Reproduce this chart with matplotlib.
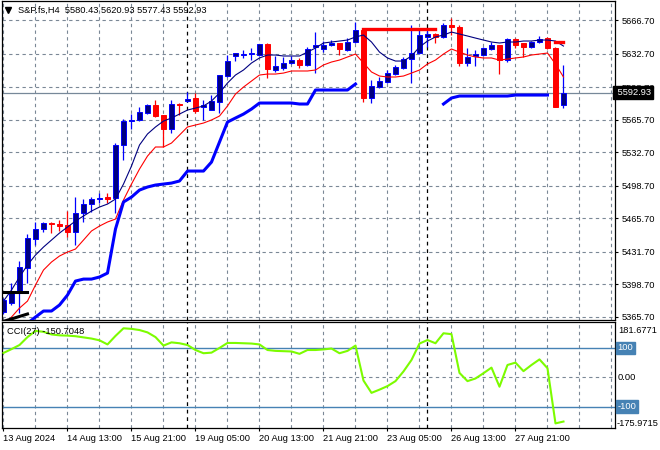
import numpy as np
import matplotlib
matplotlib.use("Agg")
import matplotlib.pyplot as plt
from matplotlib.transforms import blended_transform_factory

plt.rcParams['font.family'] = ['Liberation Sans', 'DejaVu Sans']
plt.rcParams['font.size'] = 6.7

# S&P.fs H4 candles
opens = [5370.5, 5379.6, 5389.8, 5415.1, 5444.5, 5454.7, 5460.8, 5459.8, 5458.7, 5451.6,
         5470.9, 5480.0, 5485.1, 5487.1, 5486.1, 5539.9, 5564.2, 5565.3, 5572.4, 5580.5,
         5570.3, 5556.1, 5581.5, 5584.5, 5587.6, 5578.5, 5575.4, 5583.5, 5609.9, 5630.2,
         5631.2, 5632.2, 5631.2, 5642.4, 5616.0, 5618.0, 5623.1, 5626.1, 5621.1, 5639.3,
         5637.3, 5641.3, 5643.4, 5636.3, 5644.4, 5656.6, 5587.6, 5598.7, 5603.8, 5611.9,
         5618.0, 5627.1, 5633.2, 5649.5, 5652.5, 5649.5, 5661.6, 5659.6, 5623.1, 5630.2,
         5631.2, 5637.3, 5641.3, 5626.1, 5647.4, 5643.4, 5639.3, 5644.4, 5648.4, 5638.3,
         5580.43]
highs = [5384.7, 5399.9, 5422.2, 5449.6, 5461.8, 5461.8, 5461.8, 5463.8, 5472.9, 5487.1,
         5485.1, 5487.1, 5491.2, 5491.2, 5541.9, 5566.3, 5571.3, 5578.5, 5581.5, 5585.6,
         5570.3, 5585.6, 5582.5, 5593.7, 5592.7, 5585.6, 5590.6, 5610.9, 5631.2, 5633.2,
         5636.3, 5638.3, 5642.4, 5643.4, 5630.2, 5629.2, 5630.2, 5628.2, 5639.3, 5654.5,
         5645.4, 5646.4, 5643.4, 5648.4, 5664.7, 5656.6, 5605.8, 5608.9, 5616.0, 5621.1,
         5629.2, 5661.6, 5656.6, 5658.6, 5653.5, 5663.7, 5668.7, 5661.6, 5638.3, 5636.3,
         5639.3, 5644.4, 5641.3, 5648.4, 5648.4, 5643.4, 5645.4, 5650.5, 5649.5, 5639.3,
         5620.93]
lows = [5368.5, 5377.6, 5369.5, 5399.9, 5438.4, 5451.6, 5450.6, 5452.7, 5446.6, 5438.4,
        5461.8, 5471.9, 5481.1, 5481.1, 5470.9, 5524.7, 5556.1, 5564.2, 5571.3, 5568.3,
        5537.9, 5552.1, 5570.3, 5583.5, 5572.4, 5565.3, 5575.4, 5572.4, 5608.9, 5625.1,
        5628.2, 5626.1, 5630.2, 5607.9, 5614.0, 5616.0, 5622.1, 5618.0, 5620.0, 5612.9,
        5634.2, 5640.3, 5631.2, 5635.3, 5643.4, 5583.5, 5582.5, 5597.7, 5602.8, 5610.9,
        5617.0, 5602.8, 5632.2, 5639.3, 5643.4, 5648.4, 5651.5, 5620.0, 5620.0, 5620.0,
        5630.2, 5636.3, 5611.9, 5624.1, 5638.3, 5629.2, 5638.3, 5643.4, 5637.3, 5578.5,
        5577.43]
closes = [5382.7, 5390.8, 5416.1, 5445.5, 5454.7, 5460.8, 5459.8, 5457.7, 5451.6, 5470.9,
          5480.0, 5485.1, 5486.1, 5485.1, 5539.9, 5564.2, 5565.3, 5573.4, 5580.5, 5569.3,
          5556.1, 5581.5, 5580.5, 5586.6, 5574.4, 5580.5, 5584.5, 5610.9, 5625.1, 5633.2,
          5632.2, 5633.2, 5642.4, 5617.0, 5620.0, 5623.1, 5626.1, 5621.1, 5637.3, 5641.3,
          5641.3, 5643.4, 5637.3, 5644.4, 5656.6, 5587.6, 5599.8, 5604.8, 5612.9, 5619.0,
          5627.1, 5633.2, 5651.5, 5652.5, 5649.5, 5661.6, 5659.6, 5623.1, 5629.2, 5632.2,
          5638.3, 5641.3, 5626.1, 5647.4, 5641.3, 5639.3, 5644.4, 5647.4, 5638.3, 5578.5,
          5592.93]

# indicator lines
ma_fast = [5381.6, 5392.8, 5406.0, 5418.2, 5428.3, 5436.4, 5443.5, 5450.6, 5456.7, 5462.8,
           5467.9, 5472.9, 5477.0, 5480.0, 5485.1, 5500.3, 5518.6, 5539.9, 5551.1, 5558.2,
           5564.2, 5567.3, 5571.3, 5575.4, 5577.4, 5579.5, 5584.5, 5592.7, 5602.8, 5610.9,
           5616.0, 5623.1, 5628.2, 5631.2, 5631.2, 5630.2, 5630.2, 5630.2, 5634.2, 5638.3,
           5643.4, 5644.4, 5645.4, 5646.4, 5649.5, 5651.5, 5644.4, 5634.2, 5628.2, 5625.1,
           5625.1, 5630.2, 5639.3, 5645.4, 5649.5, 5651.5, 5654.5, 5652.5, 5650.5, 5648.4,
           5646.4, 5644.4, 5643.4, 5644.4, 5644.4, 5645.4, 5645.4, 5646.4, 5646.4, 5645.4,
           5640.3]
ma_slow = [5355.0, 5365.4, 5374.5, 5381.6, 5397.9, 5413.1, 5421.2, 5427.3, 5431.3, 5434.4,
           5443.5, 5452.7, 5457.7, 5461.8, 5464.8, 5484.1, 5500.3, 5515.5, 5528.7, 5537.9,
           5537.9, 5541.9, 5550.0, 5558.2, 5560.2, 5562.2, 5565.3, 5569.3, 5579.5, 5591.6,
           5598.7, 5604.8, 5610.9, 5611.9, 5611.9, 5612.9, 5615.0, 5615.0, 5615.0, 5616.0,
           5621.1, 5624.1, 5626.1, 5629.2, 5632.2, 5623.1, 5614.0, 5609.9, 5608.9, 5608.9,
           5609.9, 5612.9, 5616.0, 5622.1, 5626.1, 5632.2, 5637.3, 5634.2, 5631.2, 5629.2,
           5628.2, 5628.2, 5626.1, 5627.1, 5628.2, 5629.2, 5631.2, 5632.2, 5633.2, 5622.1,
           5608.9]
trail_up = [None, None, None, 5359.0, 5365.4, 5371.5, 5371.5, 5377.6, 5387.7, 5401.9,
            5403.9, 5403.9, 5406.0, 5410.0, 5454.7, 5482.1, 5487.1, 5494.2, 5497.3, 5499.3,
            5500.3, 5501.3, 5503.4, 5513.5, 5513.5, 5513.5, 5522.6, 5542.9, 5563.2, 5567.3,
            5571.3, 5576.4, 5582.5, 5582.5, 5582.5, 5582.5, 5582.5, 5581.5, 5581.5, 5595.7,
            5595.7, 5595.7, 5595.7, 5595.7, 5601.8, None, None, None, None, None,
            None, None, None, None, None, 5581.5, 5587.6, 5589.6, 5589.6, 5589.6,
            5589.6, 5589.6, 5589.6, 5589.6, 5590.6, 5590.6, 5590.6, 5590.6, 5590.6, None,
            None]
trail_dn = [None] * 45 + [5658.0] * 10 + [None] * 14 + [5644.6, 5644.6]
old_level = [5390.8, 5390.8, 5390.8, 5390.8] + [None] * 67
old_trail = [5361.0, 5363.5, 5366.0, 5368.5] + [None] * 67

cci = [83, 96, 110, 137, 158, 155, 146, 143, 142, 140,
       136, 132, 126, 112, 141, 167, 165, 161, 153, 137,
       108, 119, 116, 110, 93, 82, 84, 100, 117, 117,
       116, 115, 112, 93, 90, 89, 88, 80, 93, 93,
       95, 98, 82, 90, 108, -11, -53, -42, -30, -13,
       20, 59, 115, 127, 116, 150, 147, 15, -13, -4,
       14, 33, -32, 42, 50, 21, 42, 61, 31, -157,
       -150.7]

price_ticks = [5365.70, 5398.70, 5431.70, 5465.70, 5498.70, 5532.70, 5565.70, 5598.70, 5632.70, 5666.70]
price_labels = ["5365.70", "5398.70", "5431.70", "5465.70", "5498.70", "5532.70", "5565.70", "5598.70", "5632.70", "5666.70"]
time_pos = [0, 8, 16, 24, 32, 40, 48, 56, 64]
time_labels = ["13 Aug 2024", "14 Aug 13:00", "15 Aug 21:00", "19 Aug 05:00", "20 Aug 13:00",
               "21 Aug 21:00", "23 Aug 05:00", "26 Aug 13:00", "27 Aug 21:00"]
week_sep = [23, 53]
last_price = 5592.93


def arr(v):
    return np.array([np.nan if a is None else a for a in v], dtype=float)


W, H = 660.0, 450.0
fig = plt.figure(figsize=(6.6, 4.5), dpi=100)
fig.patch.set_facecolor('white')
ax = fig.add_axes([2 / W, 1 - 320 / H, 613 / W, 319 / H])
ax2 = fig.add_axes([2 / W, 1 - 428 / H, 613 / W, 106 / H])

grid_kw = dict(color='#7b8896', lw=0.8, ls=(0, (3, 3)), zorder=0)
for a in (ax, ax2):
    for gx in range(0, 77, 4):
        a.axvline(gx, **grid_kw)
    for sx in week_sep:
        a.axvline(sx, color='black', lw=0.9, ls=(0, (3, 3)), zorder=0.5)
    a.set_xlim(-0.1875, 76.44)
    for s in a.spines.values():
        s.set_color('black')
        s.set_linewidth(0.9)

for p in price_ticks:
    ax.axhline(p, **grid_kw)
ax.axhline(last_price, color='#778899', lw=0.9, zorder=1)

x = np.arange(len(closes))
o, h, l, c = (np.array(v) for v in (opens, highs, lows, closes))
up = c >= o
body_lo = np.minimum(o, c)
body_h = np.maximum(np.abs(c - o), 0.8)
for mask, face, edge in [(up, '#000080', '#0000ff'), (~up, '#ff0000', '#ff0000')]:
    ax.vlines(x[mask], l[mask], h[mask], color=edge, lw=0.9, zorder=2)
    ax.bar(x[mask], body_h[mask], bottom=body_lo[mask], width=0.6,
           color=face, edgecolor=edge, linewidth=0.7, zorder=2.5)

ax.plot(x, ma_fast, color='#000080', lw=0.8, zorder=3)
ax.plot(x, ma_slow, color='#ff0000', lw=0.8, zorder=3)
ax.plot(x, arr(trail_up), color='#0000ff', lw=2.2, zorder=3.2)
ax.plot(x, arr(trail_dn), color='#ff0000', lw=2.4, zorder=3.2)
ax.plot(x, arr(old_level), color='black', lw=2.2, zorder=3.2)
ax.plot(x, arr(old_trail), color='black', lw=2.2, zorder=3.2)

ax.set_ylim(5362.4, 5686.0)
ax.set_xticks([])
ax.yaxis.tick_right()
ax.set_yticks(price_ticks, price_labels)
ax.tick_params(axis='y', length=2.5, pad=2, width=0.8)

tb = blended_transform_factory(ax.transAxes, ax.transData)
ax.text(1.0, last_price, ' 5592.93', transform=tb, ha='left', va='center', color='white',
        bbox=dict(boxstyle='square,pad=0.2', fc='black', ec='black'), zorder=10, clip_on=False)
ax.plot([0.0098], [0.972], marker='v', ms=4.5, color='black', transform=ax.transAxes, clip_on=False)
ax.text(0.026, 0.972, 'S&P.fs,H4  5580.43 5620.93 5577.43 5592.93', transform=ax.transAxes,
        ha='left', va='center', color='black')

# CCI subwindow
ax2.plot(x, cci, color='#7cfc00', lw=1.5, zorder=3)
ax2.axhline(100, color='#4682b4', lw=1, zorder=1)
ax2.axhline(-100, color='#4682b4', lw=1, zorder=1)
ax2.axhline(0, **grid_kw)
ax2.set_ylim(-172.7, 188.4)
ax2.set_yticks([])
ax2.text(0.008, 0.915, 'CCI(27) -150.7048', transform=ax2.transAxes, ha='left', va='center')

tb2 = blended_transform_factory(ax2.transAxes, ax2.transData)
ax2.text(1.005, 161, '181.6771', transform=tb2, ha='left', va='center', clip_on=False)
ax2.text(1.005, 0, '0.00', transform=tb2, ha='left', va='center', clip_on=False)
ax2.text(1.002, -159, '-175.9715', transform=tb2, ha='left', va='center', clip_on=False)
for lvl, txt in [(100, '100'), (-100, '-100')]:
    ax2.text(1.004, lvl, txt, transform=tb2, ha='left', va='center', color='white', clip_on=False,
             bbox=dict(boxstyle='square,pad=0.2', fc='#4682b4', ec='#4682b4'), zorder=10)

ax2.set_xticks(time_pos, time_labels)
for lbl in ax2.get_xticklabels():
    lbl.set_horizontalalignment('left')
ax2.tick_params(axis='x', length=2.5, pad=1.5, width=0.8)

fig.savefig('out.png', dpi=100)
